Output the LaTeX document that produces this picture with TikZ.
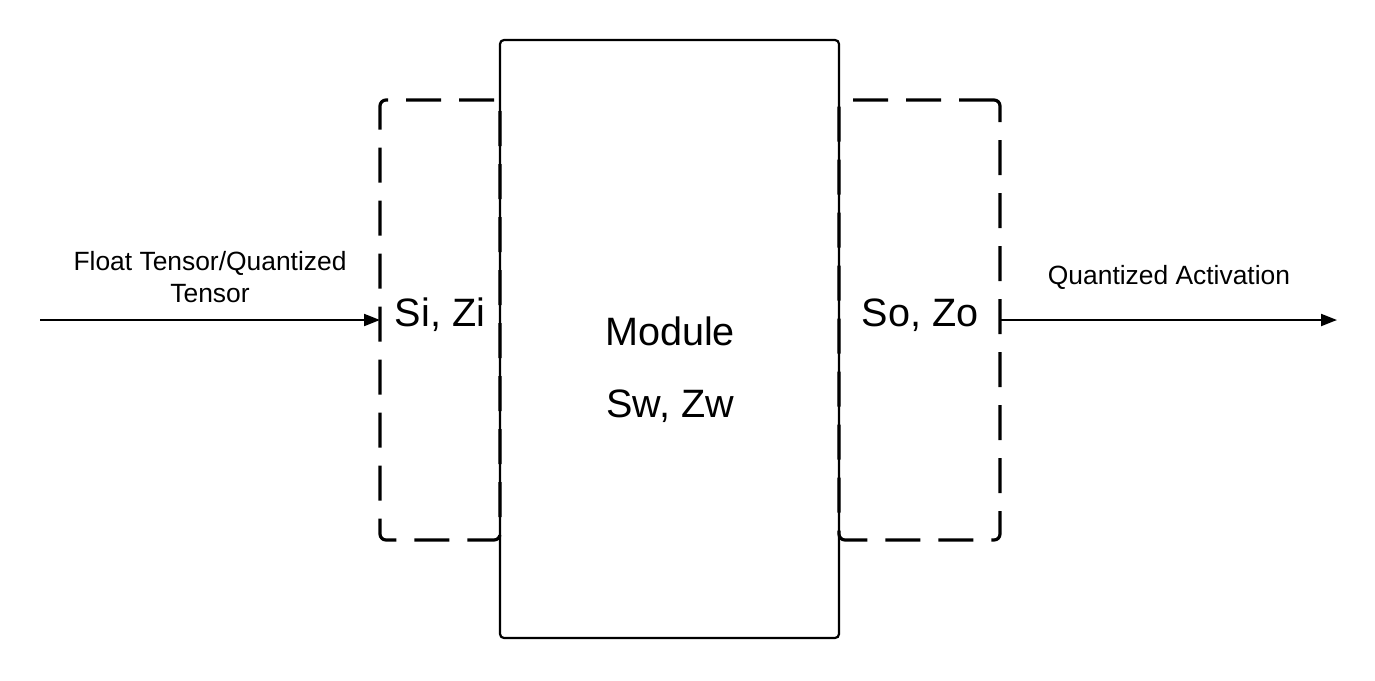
\documentclass[tikz,border=0pt]{standalone}
\usepackage{fontspec}
\setmainfont{Liberation Sans}
\usetikzlibrary{arrows.meta, positioning}
\tikzset{
  modbox/.style = {draw, line width=1.1pt, rounded corners=2pt, inner sep=0pt,
                   outer sep=0pt, minimum width=169.5pt, minimum height=299pt},
  qbox/.style   = {draw, line width=1.6pt, rounded corners=3pt, inner sep=0pt,
                   outer sep=0pt, minimum height=220pt,
                   dash pattern=on 17.5pt off 9pt},
  big/.style    = {font=\fontsize{19.8}{22}\selectfont, inner sep=0pt},
  lbl/.style    = {font=\fontsize{13.2}{15.8}\selectfont, align=center, inner sep=0pt},
  arrow/.style  = {-{Triangle[length=8pt,width=6pt]}, line width=1pt},
}
\begin{document}
\begin{tikzpicture}[x=0.5pt, y=-0.5pt]
  \useasboundingbox (0,0) rectangle (1375,680);
  % quantizer boxes and the module
  \node[qbox, minimum width=60pt]   (inq)  at (440,320)   {};
  \node[qbox, minimum width=80.5pt] (outq) at (919.5,320) {};
  \node[modbox] (mod) at (669.5,339) {};
  % texts
  \node[big] (sizi) at (440,315) {Si, Zi};
  \node[big] (sozo) at (920,315) {So, Zo};
  \node[big] (modname) at (670,331) {Module};
  \node[big, below=22pt of modname.south] (swzw) {Sw, Zw};
  \node[lbl] (inlbl)  at (210,277) {Float Tensor/Quantized\\Tensor};
  \node[lbl] (outlbl) at (1169,277) {Quantized Activation};
  % connectors
  \coordinate (src) at (40,320);
  \coordinate (dst) at (1337,320);
  \draw[arrow] (src) -- (inq.west);
  \draw[arrow] (outq.east) -- (dst);
\end{tikzpicture}
\end{document}
